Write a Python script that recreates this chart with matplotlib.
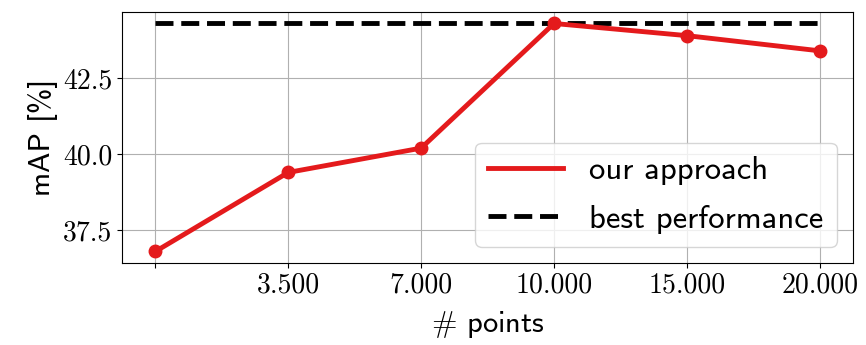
import matplotlib
matplotlib.use("Agg")
import matplotlib.pyplot as plt

# number of points used and resulting mAP
point_labels = ["", "3.500", "7.000", "10.000", "15.000", "20.000"]
map_values = [36.8, 39.4, 40.2, 44.3, 43.9, 43.4]
best_map = 44.3

plt.rcParams["mathtext.fontset"] = "cm"

fig, ax = plt.subplots(figsize=(8.66, 3.45), dpi=100)
fig.subplots_adjust(left=0.141, right=0.985, top=0.965, bottom=0.238)

x = list(range(len(map_values)))
ax.plot(x, map_values, color="#e41a1c", lw=3.5, marker="o", ms=9,
        label="our approach", zorder=3)
ax.plot(x, [best_map] * len(x), color="black", lw=3.5, ls="--",
        label="best performance", zorder=2)

ax.set_xticks(x)
ax.set_xticklabels(point_labels, family="cmr10", fontsize=20)
yt = [37.5, 40.0, 42.5]
ax.set_yticks(yt)
ax.set_yticklabels([f"{v:.1f}" for v in yt], family="cmr10", fontsize=20)

ax.grid(True, color="#b0b0b0", lw=0.8)
ax.set_axisbelow(True)
ax.set_xlabel(r"$\#$ points", family="cmss10", fontsize=22, labelpad=7)
ax.set_ylabel("mAP [%]", family="cmss10", fontsize=22)

leg = ax.legend(loc="lower right", prop={"family": "cmss10", "size": 23.5},
                handlelength=2.3, labelspacing=0.6)
for h in leg.legend_handles:
    h.set_marker("")

fig.savefig("out.png", dpi=100)
